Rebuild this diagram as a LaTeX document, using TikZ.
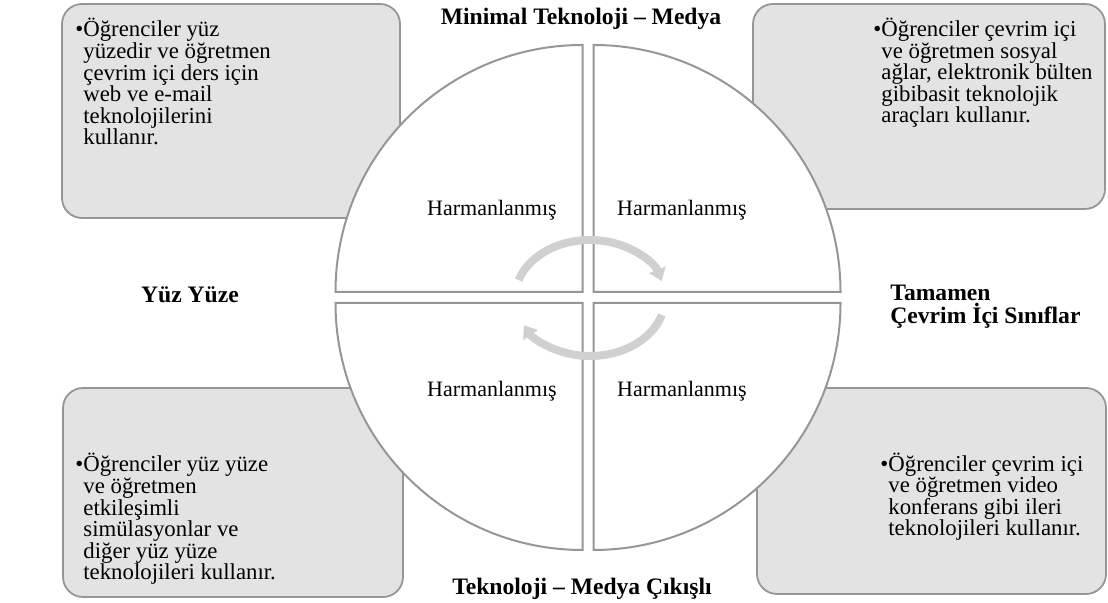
\documentclass[tikz,border=0pt]{standalone}
\usepackage{fontspec}
\setmainfont{Liberation Serif}
\usetikzlibrary{arrows.meta, positioning}
\definecolor{BoxGray}{RGB}{227,227,227}
\definecolor{EdgeGray}{RGB}{150,150,150}
\definecolor{ArrowGray}{RGB}{208,208,208}
\def\g{5.5}
\def\R{247}
\newcommand{\ind}{\hphantom{•}}
\newcommand{\sikisatir}{\lineskiplimit=-20pt\relax}

\begin{document}
\begin{tikzpicture}[x=0.5pt, y=0.5pt, font=\fontsize{11}{10}\selectfont,
    kutu/.style={fill=BoxGray, draw=EdgeGray, line width=0.9pt, rounded corners=10pt},
    dilim/.style={fill=white, draw=EdgeGray, line width=1pt},
    metin/.style={align=left, anchor=base west, inner sep=0pt,
        font=\fontsize{11.4}{10.8}\selectfont\sikisatir},
    baslik/.style={font=\fontsize{11.8}{11.5}\selectfont\bfseries\sikisatir,
        inner sep=0pt, anchor=base},
    ok/.style={ArrowGray, line width=4pt, -{Triangle[length=6pt, width=8.5pt]}}]

\useasboundingbox (0,0) rectangle (1108,603);

% kutular
\draw[kutu] (62,385) rectangle (400,599);
\draw[kutu] (753,394) rectangle (1105,599);
\draw[kutu] (63,6) rectangle (403,215);
\draw[kutu] (757,9) rectangle (1106,215);

% daire dilimleri
\foreach \sx/\sy/\a in {-1/1/90, 1/1/0, -1/-1/180, 1/-1/270}{
    \draw[dilim] ({588+\sx*\g},{305.5+\sy*\g}) -- ++(\a:\R)
        arc[start angle=\a, end angle={\a+90}, radius=\R] -- cycle;
}

% donen oklar
\draw[ok] (590,305) ++(162:75 and 58) arc[start angle=162, end angle=17, x radius=75, y radius=58];
\draw[ok] (590,305) ++(-17:75 and 58) arc[start angle=-17, end angle=-152, x radius=75, y radius=58];

% dilim etiketleri
\foreach \x/\y [count=\i] in {492/387, 682/387, 492/206, 682/206}{
    \node[anchor=base, inner sep=0pt] (harman\i) at (\x,\y) {Harmanlanmış};
}

% eksen basliklari (taban = son satir)
\node[baslik] (ust) at (581,578) {Minimal Teknoloji – Medya};
\node[baslik] (alt) at (582,8) {Teknoloji – Medya Çıkışlı};
\node[baslik] (sol) at (190,300) {Yüz Yüze};
\node[baslik, align=left, anchor=base west] (sag) at (890,279) {Tamamen\\Çevrim İçi Sınıflar};

% kutu metinleri
\node[metin] (metinSolUst) at (75,458) {•Öğrenciler yüz\\
    \ind yüzedir ve öğretmen\\
    \ind çevrim içi ders için\\
    \ind web ve e-mail\\
    \ind teknolojilerini\\
    \ind kullanır.};
\node[metin] (metinSagUst) at (873,480) {•Öğrenciler çevrim içi\\
    \ind ve öğretmen sosyal\\
    \ind ağlar, elektronik bülten\\
    \ind gibibasit teknolojik\\
    \ind araçları kullanır.};
\node[metin] (metinSolAlt) at (75,23) {•Öğrenciler yüz yüze\\
    \ind ve öğretmen\\
    \ind etkileşimli\\
    \ind simülasyonlar ve\\
    \ind diğer yüz yüze\\
    \ind teknolojileri kullanır.};
\node[metin] (metinSagAlt) at (880,67) {•Öğrenciler çevrim içi\\
    \ind ve öğretmen video\\
    \ind konferans gibi ileri\\
    \ind teknolojileri kullanır.};

\end{tikzpicture}
\end{document}
